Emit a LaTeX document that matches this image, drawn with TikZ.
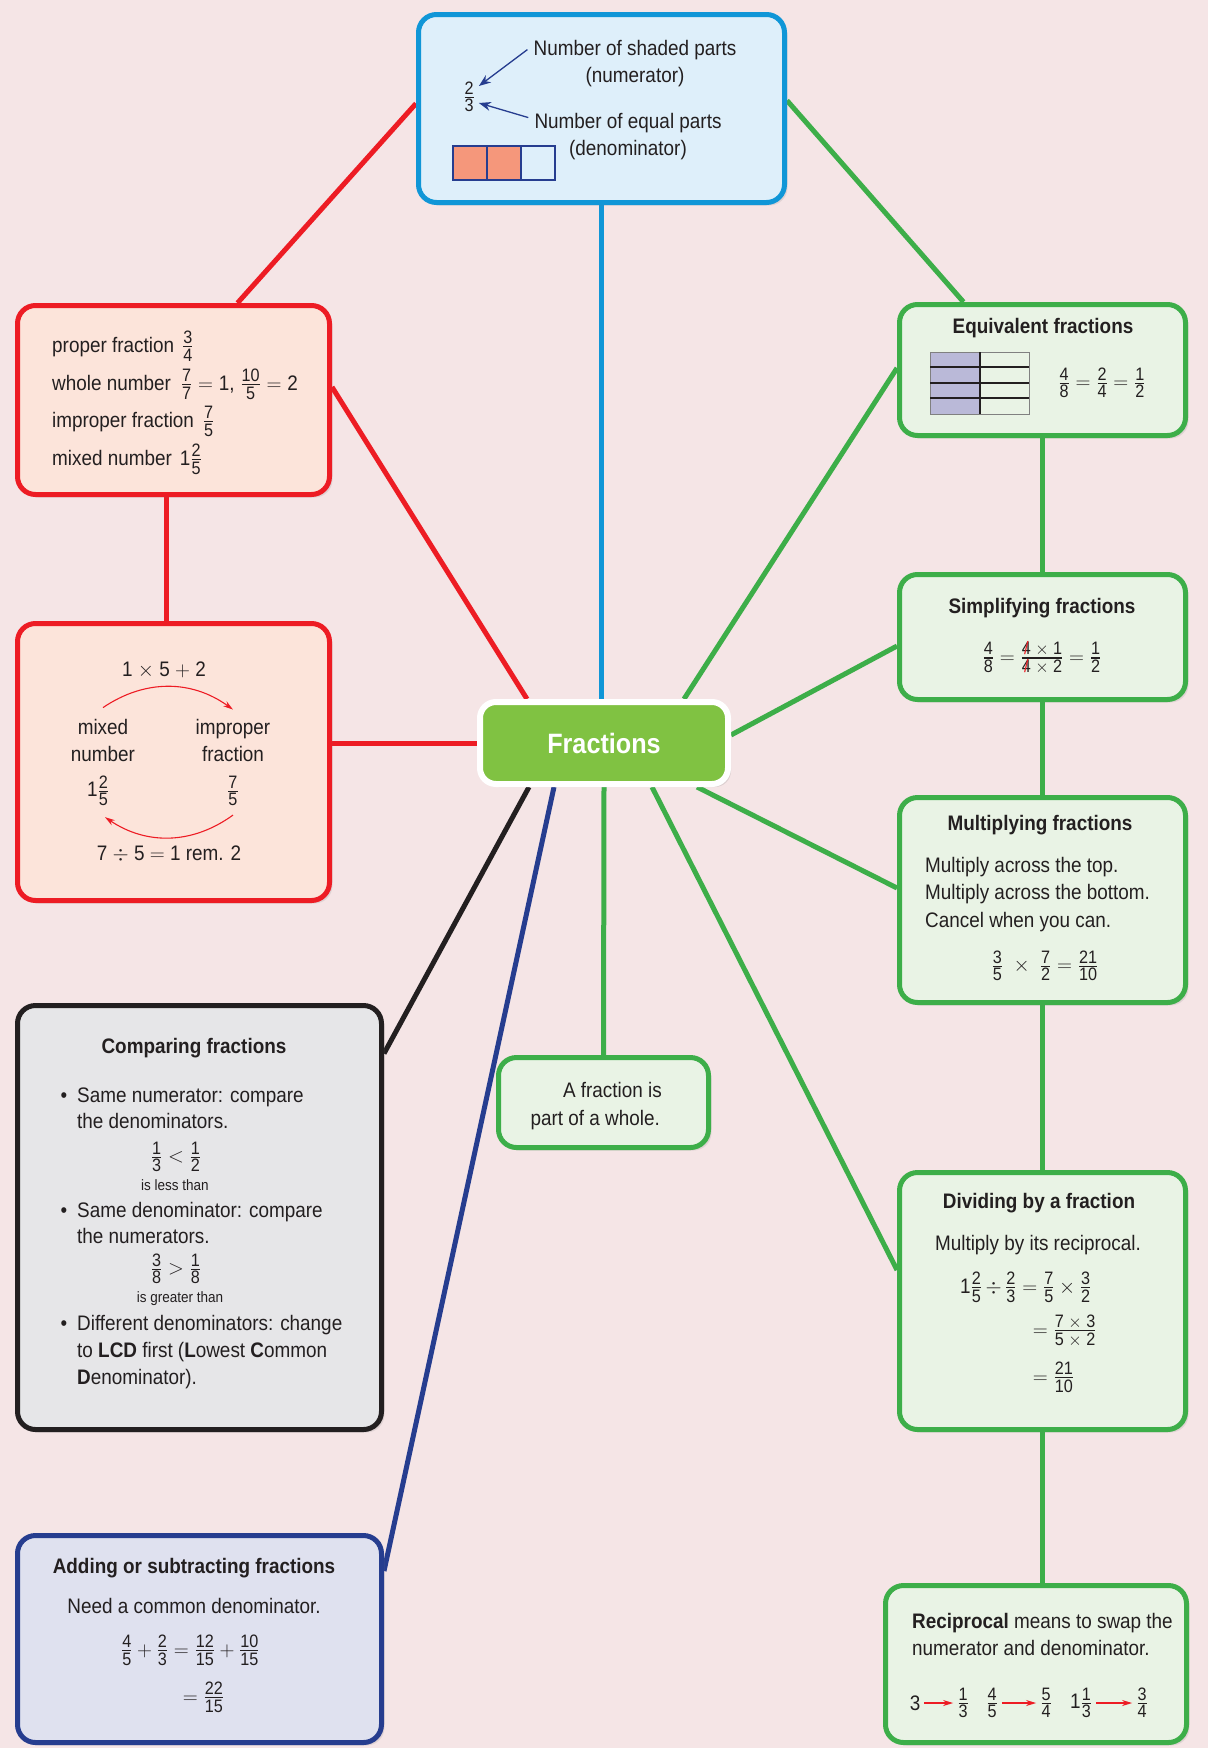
\documentclass[tikz,border=0pt]{standalone}
\usepackage{amsmath,amssymb}
\usepackage{fontspec}
\setmainfont{Liberation Sans}[FakeStretch=0.9]
\usepackage{xcolor}
\usetikzlibrary{arrows.meta,positioning,shadows}
\definecolor{pagec}{RGB}{245,229,230}
\definecolor{inkc}{RGB}{35,31,32}
\definecolor{topfill}{RGB}{222,239,250}
\definecolor{topline}{RGB}{16,150,215}
\definecolor{redfill}{RGB}{252,228,218}
\definecolor{redline}{RGB}{237,28,36}
\definecolor{grnfill}{RGB}{233,243,229}
\definecolor{grnline}{RGB}{61,174,73}
\definecolor{gryfill}{RGB}{230,230,232}
\definecolor{navyfill}{RGB}{223,225,239}
\definecolor{navyline}{RGB}{38,61,143}
\definecolor{midgreen}{RGB}{128,194,66}
\definecolor{salmon}{RGB}{245,151,123}
\definecolor{lilac}{RGB}{186,185,216}
\pgfdeclarelayer{back}
\pgfdeclarelayer{links}
\pgfsetlayers{back,links,main}
\newcommand{\fracfont}{\fontsize{18}{18}\selectfont}
\newcommand{\fr}[2]{\ensuremath{\genfrac{}{}{1.2pt}{1}{\hbox{\fracfont #1}}{\hbox{\fracfont #2}}}}
\newcommand{\struck}[1]{\ooalign{#1\cr\hidewidth\textcolor{redline}{/}\hidewidth}}

\begin{document}
\begin{tikzpicture}[x=1pt,y=-1pt,>=Stealth,
  font=\fontsize{21}{27}\selectfont,text=inkc,
  panel/.style={rounded corners=18pt,line width=5pt,inner sep=0pt,
    drop shadow={opacity=.18,shadow xshift=3pt,shadow yshift=-3pt}},
  redbox/.style={panel,draw=redline,fill=redfill},
  bluebox/.style={panel,draw=topline,fill=topfill},
  grnbox/.style={panel,draw=grnline,fill=grnfill},
  grybox/.style={panel,draw=inkc,fill=gryfill},
  navybox/.style={panel,draw=navyline,fill=navyfill},
  hubnode/.style={rounded corners=16pt,line width=6pt,draw=white,fill=midgreen,
    text=white,font=\fontsize{28}{32}\selectfont\bfseries,
    drop shadow={opacity=.2,shadow xshift=3pt,shadow yshift=-3pt}},
  link/.style={line width=5pt},
  head/.style={font=\fontsize{21}{27}\selectfont\bfseries},
  txt/.style={anchor=base west,inner sep=0pt},
  rtxt/.style={anchor=base east,inner sep=0pt},
  ctxt/.style={anchor=base,inner sep=0pt},
  note/.style={font=\fontsize{15}{18}\selectfont},
  num/.style={inner sep=1pt},
  pointer/.style={-{Stealth[length=12pt,width=9pt]},navyline,line width=1.3pt},
  turn/.style={-{Stealth[length=10pt,width=6pt]},redline,line width=1.1pt}]
\useasboundingbox (0,0) rectangle (1208,1748);
\begin{pgfonlayer}{back}
\fill[pagec] (0,0) rectangle (1208,1748);
\end{pgfonlayer}

% boxes
\node[bluebox,minimum width=366pt,minimum height=188pt] (defbox) at (601.5,108.5) {};
\node[redbox,minimum width=312pt,minimum height=189pt] (kindbox) at (173.5,400) {};
\node[redbox,minimum width=312pt,minimum height=277pt] (convbox) at (173.5,762) {};
\node[hubnode,minimum width=248pt,minimum height=82pt] (hub) at (604,743) {Fractions};
\node[grybox,minimum width=364pt,minimum height=424pt] (cmpbox) at (199.5,1217.5) {};
\node[navybox,minimum width=364pt,minimum height=207pt] (addbox) at (199.5,1639) {};
\node[grnbox,minimum width=210pt,minimum height=90pt] (wholebox) at (603.5,1102.5) {};
\node[grnbox,minimum width=286pt,minimum height=131pt] (equivbox) at (1042.5,370) {};
\node[grnbox,minimum width=286pt,minimum height=125pt] (simpbox) at (1042.5,637) {};
\node[grnbox,minimum width=286pt,minimum height=205pt] (multbox) at (1042.5,900) {};
\node[grnbox,minimum width=286pt,minimum height=257pt] (divbox) at (1042.5,1301) {};
\node[grnbox,minimum width=301pt,minimum height=157pt] (recipbox) at (1036,1664) {};

% what the parts mean
\node[ctxt] (shaded) at (635,55) {Number of shaded parts};
\node[ctxt] (numer) at (635,82) {(numerator)};
\node[ctxt] (equal) at (628,128) {Number of equal parts};
\node[ctxt] (denom) at (628,155) {(denominator)};
\node[num] (twothirds) at (469,97) {\fr23};
\draw[pointer] ([xshift=-6pt]shaded.west) -- ([xshift=3pt,yshift=11pt]twothirds.east);
\draw[pointer] ([xshift=-6pt,yshift=5pt]equal.west) -- ([xshift=3pt,yshift=-6pt]twothirds.east);
\foreach \i/\c in {0/salmon,1/salmon,2/topfill}
  \draw[navyline,line width=1.5pt,fill=\c] (453+34*\i,146) rectangle +(34,34);

% kinds of fractions
\node[txt] (proper) at (52,352) {proper fraction\hspace{8pt}\fr34};
\node[txt] (wholenum) at (52,390) {whole number\hspace{10pt}\fr77${}={}$1,\hspace{6pt}\fr{10}{5}${}={}$2};
\node[txt] (improper) at (52,427) {improper fraction\hspace{9pt}\fr75};
\node[txt] (mixednum) at (52,465) {mixed number\hspace{8pt}1\fr25};

% converting
\node[ctxt] (calc) at (164,676) {1 $\times$ 5 $+$ 2};
\node[ctxt] (mixlbl) at (103,734) {mixed};
\node[ctxt] (mixlbl2) at (103,761) {number};
\node[ctxt] (implbl) at (233,734) {improper};
\node[ctxt] (implbl2) at (233,761) {fraction};
\node[num] (mixval) at (98,791) {1\fr25};
\node[num] (impval) at (233,791) {\fr75};
\node[ctxt] (divcalc) at (169,860) {7 $\div$ 5 $=$ 1 rem. 2};
\draw[turn] ([yshift=11pt]mixlbl.north) to[bend left=35] ([yshift=9pt]implbl.north);
\draw[turn] ([yshift=-8pt]impval.south) to[bend left=35] ([xshift=7pt,yshift=-10pt]mixval.south);

% comparing
\node[head,ctxt] (cmptitle) at (194,1053) {Comparing fractions};
\node[txt] (cmp1) at (77,1102) {\llap{\textbullet\hspace{10pt}}Same numerator: compare};
\node[txt] (cmp2) at (77,1128) {the denominators.};
\node[num] (lessfr) at (176,1157) {\fr13${}<{}$\fr12};
\node[note,ctxt] (lessnote) at (175,1190) {is less than};
\node[txt] (cmp3) at (77,1217) {\llap{\textbullet\hspace{10pt}}Same denominator: compare};
\node[txt] (cmp4) at (77,1243) {the numerators.};
\node[num] (greatfr) at (176,1269) {\fr38${}>{}$\fr18};
\node[note,ctxt] (greatnote) at (180,1302) {is greater than};
\node[txt] (cmp5) at (77,1330) {\llap{\textbullet\hspace{10pt}}Different denominators: change};
\node[txt] (cmp6) at (77,1357) {to \textbf{LCD} first (\textbf{L}owest \textbf{C}ommon};
\node[txt] (cmp7) at (77,1384) {\textbf{D}enominator).};

% adding
\node[head,ctxt] (addtitle) at (194,1573) {Adding or subtracting fractions};
\node[ctxt] (addneed) at (194,1613) {Need a common denominator.};
\node[txt] (addrow1) at (121,1656) {\fr45${}+{}$\fr23${}=\fr{12}{15}+\fr{10}{15}$};
\node[txt] (addrow2) at (177,1703) {${}=\fr{22}{15}$};

% part of a whole
\node[rtxt] (whole1) at (662,1097) {A fraction is};
\node[rtxt] (whole2) at (660,1125) {part of a whole.};

% equivalent
\node[head,ctxt] (eqtitle) at (1043,333) {Equivalent fractions};
\fill[lilac] (930,352) rectangle (980,414);
\draw[gray,line width=1pt] (930,352) rectangle (1029,414);
\draw[inkc,line width=1.5pt] (980,352) -- (980,414);
\foreach \yy in {367,383,398}
  \draw[inkc,line width=1.5pt] (930,\yy) -- (1029,\yy);
\node[num] (eqfr) at (1102,383) {$\fr48 = \fr24 = \fr12$};

% simplifying
\node[head,ctxt] (simptitle) at (1042,613) {Simplifying fractions};
\node[num] (simpfr) at (1042,658) {$\fr48 = \fr{\struck4 $\times$ 1}{\struck4 $\times$ 2} = \fr12$};

% multiplying
\node[head,ctxt] (multtitle) at (1040,830) {Multiplying fractions};
\node[txt] (mult1) at (925,872) {Multiply across the top.};
\node[txt] (mult2) at (925,899) {Multiply across the bottom.};
\node[txt] (mult3) at (925,927) {Cancel when you can.};
\node[num] (multfr) at (1045,966) {$\fr35\;\times\;\fr72=\fr{21}{10}$};

% dividing
\node[head,ctxt] (divtitle) at (1039,1208) {Dividing by a fraction};
\node[ctxt] (divrule) at (1038,1250) {Multiply by its reciprocal.};
\node[txt] (divrow1) at (960,1293) {1\fr25\,$\div$\,\fr23${}=\fr75\times\fr32$};
\node[txt] (divrow2) at (1027,1336) {${}=\fr{7 $\times$ 3}{5 $\times$ 2}$};
\node[txt] (divrow3) at (1027,1383) {${}=\fr{21}{10}$};

% reciprocal
\node[txt] (rec1) at (912,1628) {\textbf{Reciprocal} means to swap the};
\node[txt] (rec2) at (912,1655) {numerator and denominator.};
\node[num] (rthree) at (915,1703) {3};
\node[num] (rthird) at (963,1703) {\fr13};
\node[num] (rfour) at (992,1703) {\fr45};
\node[num] (rfive) at (1046,1703) {\fr54};
\node[num] (rmix) at (1081,1703) {1\fr13};
\node[num] (rlast) at (1142,1703) {\fr34};
\draw[turn,line width=1.4pt,shorten <=3pt,shorten >=3pt] (rthree) -- (rthird);
\draw[turn,line width=1.4pt,shorten <=3pt,shorten >=3pt] (rfour) -- (rfive);
\draw[turn,line width=1.4pt,shorten <=3pt,shorten >=3pt] (rmix) -- (rlast);

% connectors
\begin{pgfonlayer}{links}
\draw[link,redline] ([yshift=5pt]defbox.west) -- ([xshift=64pt]kindbox.north);
\draw[link,redline] ([yshift=13pt]kindbox.east) -- ([xshift=-77pt]hub.north);
\draw[link,redline] ([xshift=-7pt]kindbox.south) -- ([xshift=-7pt]convbox.north);
\draw[link,redline] (convbox.east |- hub.west) -- (hub.west);
\draw[link,topline] (defbox.south) -- (defbox.south |- hub.north);
\draw[link,grnline] ([yshift=8pt]defbox.east) -- ([xshift=-79pt]equivbox.north);
\draw[link,grnline] ([xshift=80pt]hub.north) -- ([yshift=2pt]equivbox.west);
\draw[link,grnline] ([yshift=8pt]hub.east) -- ([yshift=-9pt]simpbox.west);
\draw[link,grnline] ([xshift=93pt]hub.south) -- ([yshift=12pt]multbox.west);
\draw[link,grnline] ([xshift=48pt]hub.south) -- ([yshift=31pt]divbox.west);
\draw[link,grnline] (hub.south) -- (wholebox.north);
\draw[link,grnline] (equivbox.south) -- (simpbox.north);
\draw[link,grnline] (simpbox.south) -- (multbox.north);
\draw[link,grnline] (multbox.south) -- (divbox.north);
\draw[link,grnline] (divbox.south) -- (divbox.south |- recipbox.north);
\draw[link,inkc] ([xshift=-75pt]hub.south) -- ([yshift=164pt]cmpbox.east);
\draw[link,navyline] ([xshift=-50pt]hub.south) -- ([yshift=68pt]addbox.east);
\end{pgfonlayer}
\end{tikzpicture}
\end{document}
